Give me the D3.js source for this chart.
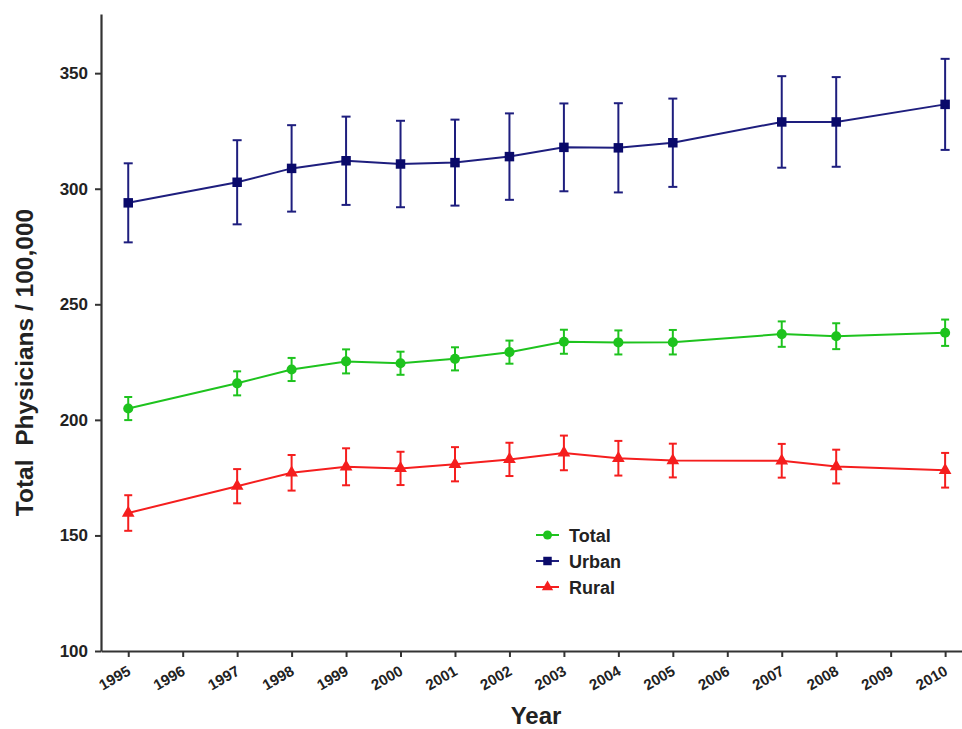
<!DOCTYPE html>
<html lang="en">
  <head>
    <meta charset="UTF-8" />
    <title>Total Physicians / 100,000</title>
    <script src="https://d3js.org/d3.v7.min.js"></script>
    <style>
      body { margin: 0; background: #fff; }
      svg { display: block; font-family: Arial, 'Liberation Sans', sans-serif; }
    </style>
  </head>
  <body>
    <svg width="962" height="729"></svg>
    <script>
      // values (mean and error half-width)
      const years = [1995, 1997, 1998, 1999, 2000, 2001, 2002, 2003, 2004, 2005, 2007, 2008, 2010];
      const tickYears = d3.range(1995, 2011);

      const urban = [293.9, 302.8, 308.8, 312.1, 310.7, 311.3, 313.9, 317.9, 317.7, 319.9, 328.9, 328.9, 336.5];
      const urbanErr = [17.1, 18.2, 18.7, 19.1, 18.7, 18.6, 18.7, 19.0, 19.3, 19.1, 19.8, 19.4, 19.7];

      const total = [204.9, 215.8, 221.8, 225.3, 224.5, 226.4, 229.3, 233.8, 233.5, 233.6, 237.1, 236.2, 237.7];
      const totalErr = [5.0, 5.2, 5.0, 5.2, 5.0, 5.0, 5.0, 5.2, 5.2, 5.3, 5.5, 5.6, 5.7];

      const rural = [159.7, 171.3, 177.1, 179.7, 179.0, 180.8, 182.9, 185.7, 183.4, 182.4, 182.3, 179.8, 178.2];
      const ruralErr = [7.7, 7.4, 7.7, 8.0, 7.2, 7.4, 7.2, 7.5, 7.5, 7.3, 7.3, 7.3, 7.5];

      const yTicks = [100, 150, 200, 250, 300, 350];

      const series = [
        { name: 'Total', values: total, err: totalErr, color: '#1ec31e', shape: d3.symbolCircle, size: 80, cap: 8 },
        { name: 'Urban', values: urban, err: urbanErr, color: '#1e1e7e', shape: d3.symbolSquare, size: 90, cap: 9 },
        { name: 'Rural', values: rural, err: ruralErr, color: '#f51e1e', shape: d3.symbolTriangle, size: 70, cap: 8 },
      ];

      const svg = d3.select('svg');
      const plotLeft = 101, plotRight = 962, plotTop = 14, plotBottom = 651;

      const x = d3.scaleLinear().domain([1994.5, 2010.31]).range([plotLeft, plotRight]);
      const y = d3.scaleLinear().domain([100, 375.6]).range([plotBottom, plotTop]);

      // y axis
      const yAxis = svg.append('g')
        .attr('transform', `translate(${plotLeft},0)`)
        .call(d3.axisLeft(y).tickValues(yTicks).tickSize(6).tickPadding(7).tickSizeOuter(0));
      yAxis.select('.domain').attr('stroke', '#333').attr('stroke-width', 2.2);
      yAxis.selectAll('.tick line').attr('stroke', '#333').attr('stroke-width', 2);
      yAxis.selectAll('.tick text')
        .attr('font-size', 17).attr('font-weight', 'bold').attr('fill', '#222');

      // x axis
      const xAxis = svg.append('g')
        .attr('transform', `translate(0,${plotBottom})`)
        .call(d3.axisBottom(x).tickValues(tickYears).tickFormat(d3.format('d')).tickSize(6).tickSizeOuter(0));
      xAxis.select('.domain').attr('stroke', '#333').attr('stroke-width', 2.2);
      xAxis.selectAll('.tick line').attr('stroke', '#333').attr('stroke-width', 2);
      xAxis.selectAll('.tick text')
        .attr('font-size', 15).attr('font-weight', 'bold').attr('fill', '#222')
        .attr('text-anchor', 'end')
        .attr('y', 0).attr('dy', 0)
        .attr('transform', 'translate(3,23) rotate(-30)');

      // axis titles
      svg.append('text')
        .attr('transform', 'translate(33,362.5) rotate(-90)')
        .attr('text-anchor', 'middle')
        .attr('font-size', 24.5).attr('font-weight', 'bold').attr('fill', '#222')
        .style('white-space', 'pre')
        .text('Total  Physicians / 100,000');

      svg.append('text')
        .attr('x', 536).attr('y', 724)
        .attr('text-anchor', 'middle')
        .attr('font-size', 24).attr('font-weight', 'bold').attr('fill', '#222')
        .text('Year');

      const line = d3.line().x((d) => x(d[0])).y((d) => y(d[1]));

      // draw back to front: urban, total, rural
      [series[1], series[0], series[2]].forEach((s) => {
        const g = svg.append('g');
        const pts = years.map((yr, i) => [yr, s.values[i], s.err[i]]);

        g.append('path')
          .datum(pts)
          .attr('fill', 'none')
          .attr('stroke', s.color)
          .attr('stroke-width', 2)
          .attr('d', line);

        const eb = g.selectAll('.eb').data(pts).join('g').attr('class', 'eb')
          .attr('stroke', s.color).attr('stroke-width', 2);
        eb.append('line')
          .attr('x1', (d) => x(d[0])).attr('x2', (d) => x(d[0]))
          .attr('y1', (d) => y(d[1] + d[2])).attr('y2', (d) => y(d[1] - d[2]));
        eb.append('line')
          .attr('x1', (d) => x(d[0]) - s.cap / 2).attr('x2', (d) => x(d[0]) + s.cap / 2)
          .attr('y1', (d) => y(d[1] + d[2])).attr('y2', (d) => y(d[1] + d[2]));
        eb.append('line')
          .attr('x1', (d) => x(d[0]) - s.cap / 2).attr('x2', (d) => x(d[0]) + s.cap / 2)
          .attr('y1', (d) => y(d[1] - d[2])).attr('y2', (d) => y(d[1] - d[2]));

        g.selectAll('.mk').data(pts).join('path').attr('class', 'mk')
          .attr('transform', (d) => `translate(${x(d[0])},${y(d[1])})`)
          .attr('d', d3.symbol().type(s.shape).size(s.size))
          .attr('fill', s.name === 'Urban' ? '#0a0a6a' : s.color);
      });

      // legend
      const legend = svg.append('g').attr('transform', 'translate(536,535)');
      series.forEach((s, i) => {
        const row = legend.append('g').attr('transform', `translate(0,${i * 26})`);
        row.append('line').attr('x1', 0).attr('x2', 23)
          .attr('stroke', s.color).attr('stroke-width', 2);
        row.append('path').attr('transform', 'translate(11.5,0)')
          .attr('d', d3.symbol().type(s.shape).size(s.size * 0.8))
          .attr('fill', s.name === 'Urban' ? '#0a0a6a' : s.color);
        row.append('text').attr('x', 33).attr('y', 6.5)
          .attr('font-size', 18).attr('font-weight', 'bold').attr('fill', '#222')
          .text(s.name);
      });
    </script>
  </body>
</html>
